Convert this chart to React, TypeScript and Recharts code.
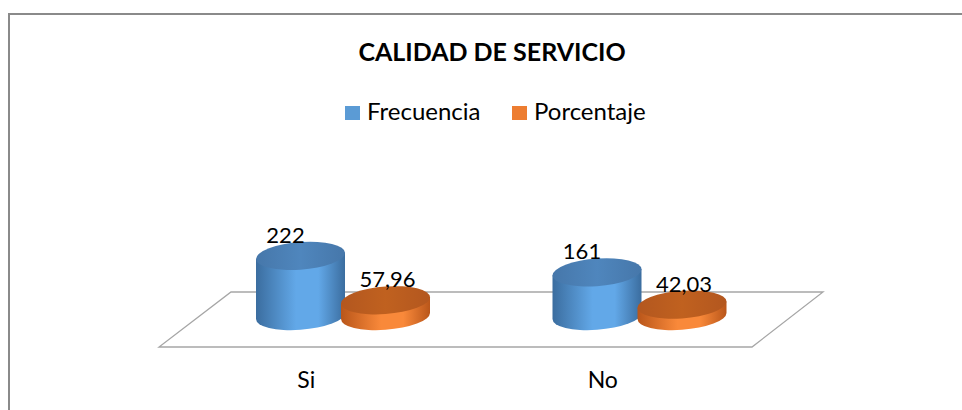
import React from "react";
import { BarChart, Bar, XAxis, YAxis, LabelList, Customized } from "recharts";

const categories = ["Si", "No"];
const frecuencia = [222, 161];
const porcentaje = [57.96, 42.03];
const seriesNames = ["Frecuencia", "Porcentaje"];
const chartTitle = "CALIDAD DE SERVICIO";

const data = categories.map((name, i) => ({
  name,
  frecuencia: frecuencia[i],
  porcentaje: porcentaje[i],
}));

const W = 962;
const H = 410;
const margin = { top: 251, right: 174, bottom: 54, left: 195 };
const FONT = "Lato, 'Open Sans', sans-serif";

const palette = {
  blue: { dark: "#3b6d9f", light: "#62a8e8", top: "#4677aa", topLight: "#4f86bd", key: "#5b9bd5" },
  orange: { dark: "#b9561a", light: "#f9893a", top: "#b3571f", topLight: "#c0611f", key: "#ed7d31" },
};

const fmt = (v: number) => (Number.isInteger(v) ? String(v) : v.toFixed(2).replace(".", ","));

const Cylinder = (props: any) => {
  const { x, y, width, height, tone } = props;
  const c = palette[tone as "blue" | "orange"];
  const cx = x + width / 2;
  const rx = width / 2;
  const ry = width * 0.155;
  const bottom = y + height;
  const side = `M ${x} ${y} L ${x} ${bottom} A ${rx} ${ry} 0 0 0 ${x + width} ${bottom} L ${x + width} ${y} Z`;
  return (
    <g transform={`translate(${cx} 0) skewY(-4) translate(${-cx} 0)`}>
      <path d={side} fill={`url(#side-${tone})`} />
      <ellipse cx={cx} cy={y} rx={rx} ry={ry} fill={`url(#top-${tone})`} />
    </g>
  );
};

const valueLabel = (dx: number) => (props: any) => {
  const { x, y, width, value } = props;
  return (
    <text
      x={x + width / 2 + dx}
      y={y - 13}
      textAnchor="middle"
      fontFamily={FONT}
      fontSize={22}
      fill="#000"
    >
      {fmt(value)}
    </text>
  );
};

const CategoryTick = (props: any) => {
  const { x, y, payload } = props;
  return (
    <text x={x - 37} y={y + 64} textAnchor="middle" fontFamily={FONT} fontSize={23} fill="#000">
      {payload.value}
    </text>
  );
};

const Decor = () => {
  const left = margin.left;
  const right = W - margin.right;
  const base = H - margin.bottom - 40;
  const back = base - 24;
  const front = base + 31;
  const floor = `${left + 36},${back} ${right + 35},${back} ${right - 36},${front} ${left - 36},${front}`;
  return (
    <g>
      <defs>
        {(["blue", "orange"] as const).map((t) => (
          <React.Fragment key={t}>
            <linearGradient id={`side-${t}`} x1="0" y1="0" x2="1" y2="0">
              <stop offset="0%" stopColor={palette[t].dark} />
              <stop offset="45%" stopColor={palette[t].light} />
              <stop offset="70%" stopColor={palette[t].light} />
              <stop offset="100%" stopColor={palette[t].dark} />
            </linearGradient>
            <linearGradient id={`top-${t}`} x1="0" y1="0" x2="1" y2="0">
              <stop offset="0%" stopColor={palette[t].top} />
              <stop offset="50%" stopColor={palette[t].topLight} />
              <stop offset="100%" stopColor={palette[t].top} />
            </linearGradient>
          </React.Fragment>
        ))}
      </defs>
      <text x={492} y={61} textAnchor="middle" fontFamily={FONT} fontWeight="bold" fontSize={25} fill="#000">
        {chartTitle}
      </text>
      <rect x={345} y={106} width={15} height={14} fill={palette.blue.key} />
      <text x={367} y={120} fontFamily={FONT} fontSize={24} fill="#000">
        {seriesNames[0]}
      </text>
      <rect x={512} y={106} width={15} height={14} fill={palette.orange.key} />
      <text x={534} y={120} fontFamily={FONT} fontSize={24} fill="#000">
        {seriesNames[1]}
      </text>
      <polygon points={floor} fill="#fff" stroke="#a6a6a6" strokeWidth={1.3} />
    </g>
  );
};

export default function App() {
  return (
    <div style={{ position: "absolute", left: 0, top: 0, width: W, height: H, overflow: "hidden", background: "#fff" }}>
      <div
        style={{
          position: "absolute",
          left: 8,
          top: 13,
          width: 1000,
          height: 450,
          border: "2px solid #8a8a8a",
          boxSizing: "border-box",
        }}
      />
      <div style={{ position: "absolute", left: 0, top: 0 }}>
        <BarChart width={W} height={H} data={data} margin={margin} barGap={-4} barSize={89}>
          <Customized component={<Decor />} />
          <XAxis dataKey="name" axisLine={false} tickLine={false} height={40} tick={<CategoryTick />} />
          <YAxis hide domain={[0, 240]} />
          <Bar dataKey="frecuencia" isAnimationActive={false} shape={(p: any) => <Cylinder {...p} tone="blue" />}>
            <LabelList dataKey="frecuencia" content={valueLabel(-15)} />
          </Bar>
          <Bar dataKey="porcentaje" isAnimationActive={false} shape={(p: any) => <Cylinder {...p} tone="orange" />}>
            <LabelList dataKey="porcentaje" content={valueLabel(2)} />
          </Bar>
        </BarChart>
      </div>
    </div>
  );
}
